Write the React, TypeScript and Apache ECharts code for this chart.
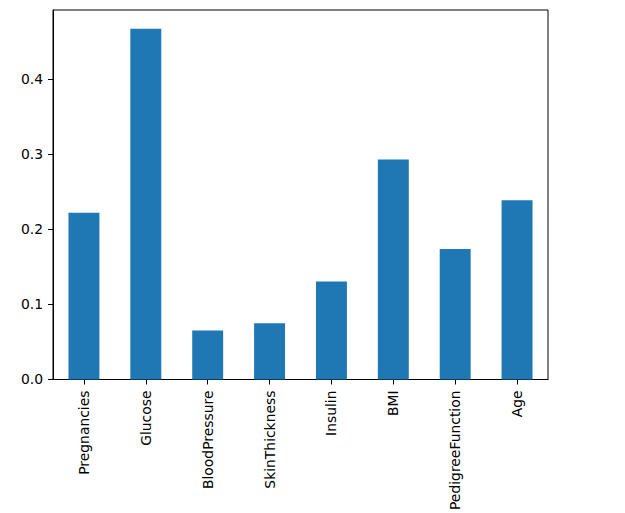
import React, { useEffect, useRef } from "react";
import * as echarts from "echarts";

const categories = [
  "Pregnancies",
  "Glucose",
  "BloodPressure",
  "SkinThickness",
  "Insulin",
  "BMI",
  "PedigreeFunction",
  "Age",
];
const values = [0.2219, 0.4666, 0.0651, 0.0748, 0.1305, 0.2927, 0.1738, 0.2384];
const yTicks = [0, 0.1, 0.2, 0.3, 0.4];

export default function App() {
  const ref = useRef<HTMLDivElement>(null);
  useEffect(() => {
    document.body.style.margin = "0";
    const chart = echarts.init(ref.current!, null, { renderer: "svg" });
    const font = "DejaVu Sans";
    chart.setOption({
      animation: false,
      grid: {
        left: 53,
        top: 10,
        width: 495,
        height: 370,
        show: true,
        borderColor: "#000",
        borderWidth: 1,
        backgroundColor: "transparent",
      },
      xAxis: {
        type: "category",
        data: categories,
        boundaryGap: true,
        axisLine: { show: true, lineStyle: { color: "#000", width: 1 } },
        axisTick: { show: true, alignWithLabel: true, length: 5, lineStyle: { color: "#000" } },
        axisLabel: {
          rotate: 90,
          interval: 0,
          margin: 11,
          padding: [0, 0, 4, 0],
          color: "#000",
          fontFamily: font,
          fontSize: 13.9,
        },
        splitLine: { show: false },
      },
      yAxis: {
        type: "value",
        min: 0,
        max: 0.4917,
        interval: 0.1,
        axisLine: { show: true, lineStyle: { color: "#000", width: 1 } },
        axisTick: { show: true, length: 5, lineStyle: { color: "#000" }, customValues: yTicks },
        axisLabel: {
          margin: 10,
          color: "#000",
          fontFamily: font,
          fontSize: 13.9,
          customValues: yTicks,
          formatter: (v: number) => v.toFixed(1),
        },
        splitLine: { show: false },
      },
      series: [
        {
          type: "bar",
          data: values,
          barWidth: "50%",
          itemStyle: { color: "#1f77b4" },
        },
      ],
    });
    return () => chart.dispose();
  }, []);
  return <div ref={ref} style={{ width: 625, height: 513 }} />;
}
